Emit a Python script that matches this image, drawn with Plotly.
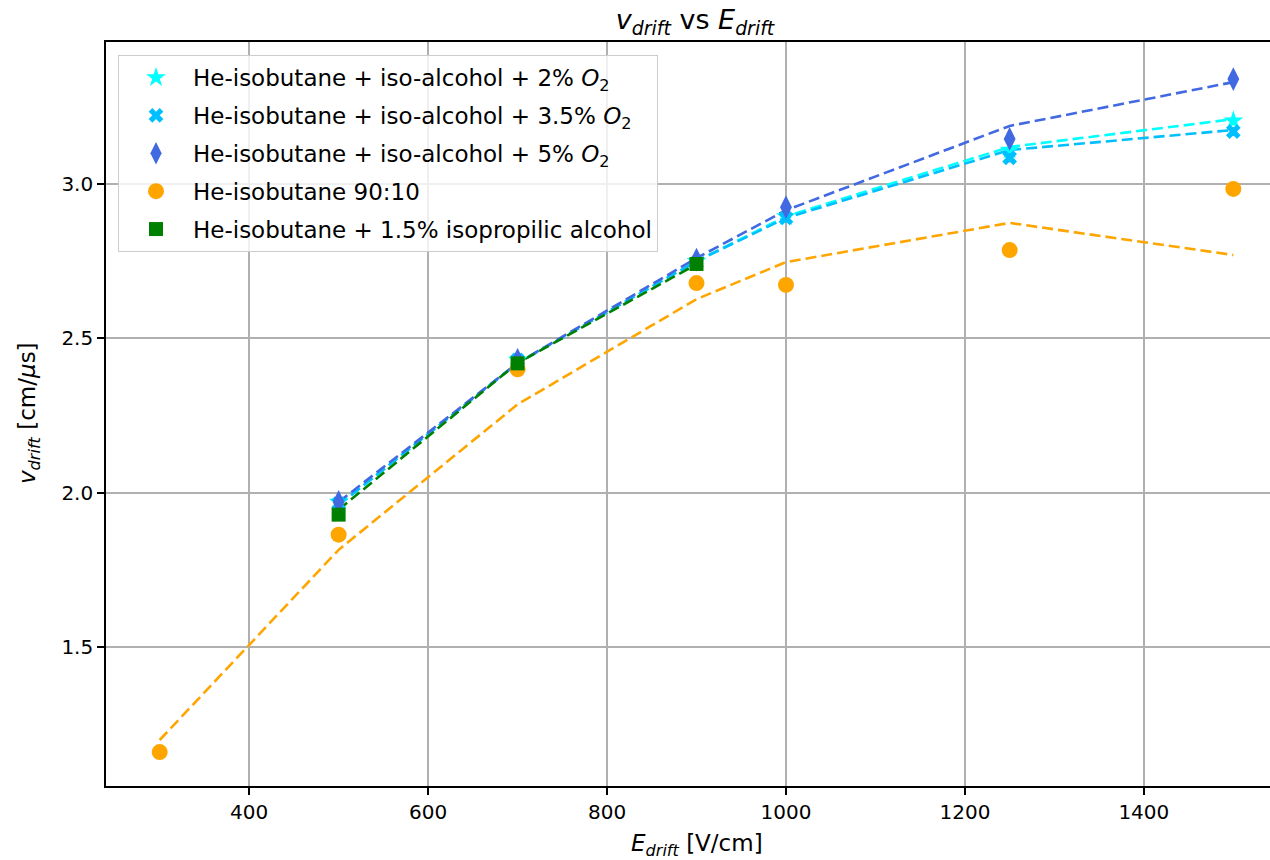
import plotly.graph_objects as go

# ---- data ----
E_o2 = [500, 700, 900, 1000, 1250, 1500]
v_2pct = [1.97, 2.43, 2.75, 2.895, 3.11, 3.205]
v_35pct = [1.965, 2.43, 2.745, 2.89, 3.085, 3.17]
v_5pct = [1.97, 2.43, 2.755, 2.925, 3.146, 3.34]
sim_2pct = [1.96, 2.42, 2.75, 2.895, 3.12, 3.21]
sim_35pct = [1.96, 2.42, 2.75, 2.89, 3.11, 3.175]
sim_5pct = [1.97, 2.42, 2.76, 2.915, 3.188, 3.33]

E_std = [300, 500, 700, 900, 1000, 1250, 1500]
v_std = [1.16, 1.864, 2.40, 2.679, 2.673, 2.786, 2.984]
sim_std = [1.199, 1.815, 2.286, 2.627, 2.747, 2.874, 2.77]

E_alc = [500, 700, 900]
v_alc = [1.929, 2.419, 2.741]
sim_alc = [1.945, 2.42, 2.74]

err = 0.015

FONT = "DejaVu Sans"
L, T, PW, PH = 106, 42, 1164, 744

fig = go.Figure()

def sim_line(x, y, color):
    fig.add_trace(go.Scatter(x=x, y=y, mode="lines", showlegend=False,
                             line=dict(color=color, width=2.6, dash="11px,5px"),
                             hoverinfo="skip"))

sim_line(E_o2, sim_2pct, "#00FFFF")
sim_line(E_o2, sim_35pct, "#00BFFF")
sim_line(E_o2, sim_5pct, "#4169E1")
sim_line(E_std, sim_std, "#FFA500")
sim_line(E_alc, sim_alc, "#008000")

def data_pts(x, y, color, symbol, name, size, grp):
    fig.add_trace(go.Scatter(
        x=x, y=y, mode="markers", name=name, legendgroup=grp,
        marker=dict(color=color, symbol=symbol, size=size, line=dict(width=0)),
        error_y=dict(type="constant", value=err, color=color, thickness=2, width=0),
    ))

data_pts(E_o2, v_2pct, "#00FFFF", "star", "He-isobutane + iso-alcohol + 2% <i>O</i><sub>2</sub>", 15, "a")
data_pts(E_o2, v_35pct, "#00BFFF", "x", "He-isobutane + iso-alcohol + 3.5% <i>O</i><sub>2</sub>", 13, "b")
data_pts(E_o2, v_5pct, "#4169E1", "diamond-tall", "He-isobutane + iso-alcohol + 5% <i>O</i><sub>2</sub>", 17, "c")
data_pts(E_std, v_std, "#FFA500", "circle", "He-isobutane 90:10", 16, "d")
data_pts(E_alc, v_alc, "#008000", "square", "He-isobutane + 1.5% isopropilic alcohol", 14, "e")

fig.update_layout(
    width=1270, height=860,
    margin=dict(l=L, r=0, t=T, b=860 - T - PH),
    paper_bgcolor="white", plot_bgcolor="white",
    font=dict(family=FONT, size=20, color="#000000"),
    title=dict(text="<i>v</i><sub><i>drift</i></sub> vs <i>E</i><sub><i>drift</i></sub>",
               xref="paper", x=(695 - L) / PW, xanchor="center",
               y=1 - 20 / 860, yanchor="middle",
               font=dict(family=FONT, size=27)),
    legend=dict(x=12 / PW, y=1 - 13 / PH, xanchor="left", yanchor="top",
                bgcolor="rgba(255,255,255,0.8)", bordercolor="#cccccc", borderwidth=1,
                font=dict(family=FONT, size=23), itemsizing="trace", itemwidth=64,
                tracegroupgap=5),
    xaxis=dict(range=[240, 1541], tickvals=[400, 600, 800, 1000, 1200, 1400],
               showgrid=True, gridcolor="#b0b0b0", gridwidth=1.6,
               showline=True, linecolor="black", linewidth=1.6, mirror=True,
               ticks="outside", ticklen=7, tickwidth=1.6, tickcolor="black", zeroline=False,
               tickfont=dict(size=20)),
    yaxis=dict(range=[1.05, 3.46], tickvals=[1.5, 2.0, 2.5, 3.0], ticktext=["1.5", "2.0", "2.5", "3.0"],
               showgrid=True, gridcolor="#b0b0b0", gridwidth=1.6,
               showline=True, linecolor="black", linewidth=1.6, mirror=False,
               ticks="outside", ticklen=7, tickwidth=1.6, tickcolor="black", zeroline=False,
               tickfont=dict(size=20)),
    annotations=[
        dict(text="<i>E</i><sub><i>drift</i></sub> [V/cm]", xref="paper", yref="paper",
             x=(697 - L) / PW, y=(T + PH - 845) / PH, xanchor="center", yanchor="middle",
             showarrow=False, font=dict(family=FONT, size=23)),
        dict(text="<i>v</i><sub><i>drift</i></sub> [cm/<i>μ</i>s]", xref="paper", yref="paper",
             x=(29 - L) / PW, y=(T + PH - 413) / PH, xanchor="center", yanchor="middle",
             textangle=-90, showarrow=False, font=dict(family=FONT, size=23)),
    ],
)

fig.write_html("out.html")
